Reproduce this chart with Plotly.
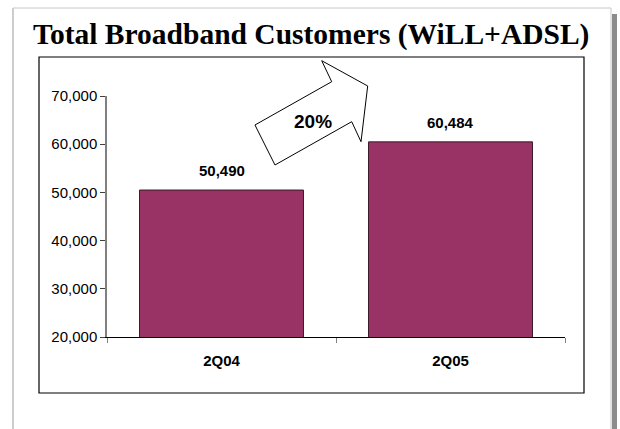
import plotly.graph_objects as go

# Data
quarters = ["2Q04", "2Q05"]
customers = [50490, 60484]
growth_label = "20%"
y_ticks = [20000, 30000, 40000, 50000, 60000, 70000]
y_tick_text = ["20,000", "30,000", "40,000", "50,000", "60,000", "70,000"]

W, H = 620, 429
ML, MR, MT, MB = 107, 55, 96, 92
PW, PH = W - ML - MR, H - MT - MB


def px(x):
    return (x - ML) / PW


def py(y):
    return (H - MB - y) / PH


fig = go.Figure()
fig.add_trace(go.Bar(
    x=quarters, y=customers,
    marker=dict(color="#993366", line=dict(color="#3a1a2a", width=1)),
    width=0.716,
    hoverinfo="skip",
))

shapes = []
# slide frame
shapes.append(dict(type="line", xref="paper", yref="paper",
                   x0=px(13), x1=px(13), y0=py(8), y1=py(429),
                   line=dict(color="#bdbdbd", width=1.5)))
shapes.append(dict(type="line", xref="paper", yref="paper",
                   x0=px(13), x1=px(611), y0=py(8), y1=py(8),
                   line=dict(color="#c8c8c8", width=1)))
shapes.append(dict(type="line", xref="paper", yref="paper",
                   x0=px(611), x1=px(611), y0=py(8), y1=py(429),
                   line=dict(color="#c8c8c8", width=1)))
shapes.append(dict(type="rect", xref="paper", yref="paper",
                   x0=px(612), x1=px(617), y0=py(14), y1=py(429),
                   fillcolor="#8c8c8c", line=dict(width=0)))
# chart box
shapes.append(dict(type="rect", xref="paper", yref="paper",
                   x0=px(39), x1=px(584), y0=py(57), y1=py(393),
                   fillcolor="rgba(0,0,0,0)", line=dict(color="black", width=1.2)))

# growth arrow
arrow_pts = [(275, 165), (255, 125), (331.7, 81.7), (321.7, 60.7),
             (367.7, 86), (361, 141.7), (351.7, 121.7)]
path = "M " + " L ".join(f"{px(a):.4f},{py(b):.4f}" for a, b in arrow_pts) + " Z"
shapes.append(dict(type="path", xref="paper", yref="paper", path=path,
                   fillcolor="white", line=dict(color="black", width=1)))

annotations = [
    dict(text="<b>Total Broadband Customers (WiLL+ADSL)</b>",
         xref="paper", yref="paper", x=px(311), y=py(34),
         xanchor="center", yanchor="middle", showarrow=False,
         font=dict(family="Liberation Serif, Times New Roman", size=29.5, color="black")),
    dict(text=f"<b>{growth_label}</b>",
         xref="paper", yref="paper", x=px(313), y=py(121),
         xanchor="center", yanchor="middle", showarrow=False,
         font=dict(family="Liberation Sans, Arial", size=19, color="black")),
]
# value labels above each bar
for q, v in zip(quarters, customers):
    annotations.append(dict(
        text=f"<b>{v:,}</b>", x=q, y=v, xref="x", yref="y",
        xanchor="center", yanchor="bottom", yshift=9, showarrow=False,
        font=dict(family="Liberation Sans, Arial", size=15, color="black")))

fig.update_layout(
    width=W, height=H,
    margin=dict(l=ML, r=MR, t=MT, b=MB),
    paper_bgcolor="white", plot_bgcolor="white",
    showlegend=False,
    shapes=shapes,
    annotations=annotations,
    xaxis=dict(
        showline=True, linecolor="black", linewidth=1,
        ticks="outside", ticklen=5, tickcolor="#808080",
        tickson="boundaries", ticklabelstandoff=10,
        tickfont=dict(family="Liberation Sans, Arial", size=15, color="black"),
        tickprefix="<b>", ticksuffix="</b>",
        showgrid=False, zeroline=False, fixedrange=True,
    ),
    yaxis=dict(
        range=[20000, 70000],
        tickvals=y_ticks, ticktext=y_tick_text,
        showline=True, linecolor="#808080", linewidth=1.5,
        ticks="outside", ticklen=5, tickcolor="#404040",
        tickfont=dict(family="Liberation Sans, Arial", size=15, color="black"),
        showgrid=False, zeroline=False, fixedrange=True,
    ),
)

fig.write_html("out.html", config={"displayModeBar": False})
